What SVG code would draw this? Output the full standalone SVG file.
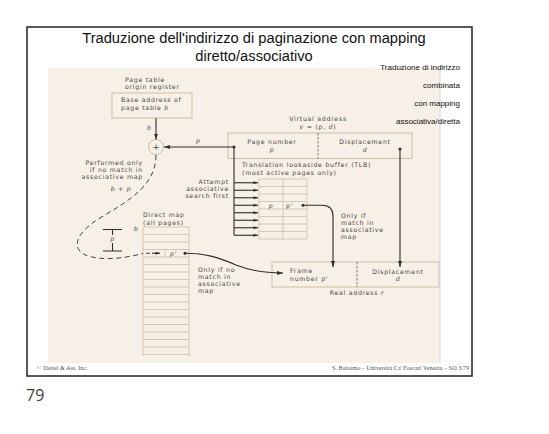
<svg xmlns="http://www.w3.org/2000/svg" width="549" height="434" viewBox="0 0 549 434">
  <defs>
    <style>
      .title { font-family: "Liberation Sans", Arial, sans-serif; font-size: 14.7px; fill: #111; text-anchor: middle; }
      .side { font-family: "Liberation Sans", Arial, sans-serif; font-size: 8px; fill: #111; text-anchor: end; }
      .fig { font-family: "DejaVu Sans", Verdana, sans-serif; font-size: 6.2px; letter-spacing: 0.75px; fill: #474747; }
      .mid { text-anchor: middle; }
      .end { text-anchor: end; }
      .it { font-style: italic; }
      .box { fill: none; stroke: #c9b8a0; stroke-width: 0.9; }
      .grid { fill: none; stroke: #cdbda6; stroke-width: 0.8; }
      .div { fill: none; stroke: #555; stroke-width: 0.8; stroke-dasharray: 2.5 1.5; }
      .wire { fill: none; stroke: #2e2e2e; stroke-width: 1.1; }
      .dash { fill: none; stroke: #444; stroke-width: 1; stroke-dasharray: 5 3.5; }
      .foot { font-family: "Liberation Serif", "Times New Roman", serif; font-size: 6.2px; fill: #555; }
    </style>
    <marker id="ah" viewBox="0 0 6 4" refX="6" refY="2" markerWidth="6" markerHeight="4" orient="auto" markerUnits="userSpaceOnUse">
      <path d="M0,0 L6,2 L0,4 z" fill="#2e2e2e"/>
    </marker>
    <marker id="ahs" viewBox="0 0 6 4" refX="6" refY="2" markerWidth="5" markerHeight="3" orient="auto" markerUnits="userSpaceOnUse">
      <path d="M0,0 L6,2 L0,4 z" fill="#2e2e2e"/>
    </marker>
  </defs>

  <!-- page and slide frame -->
  <rect x="0" y="0" width="549" height="434" fill="#fff"/>
  <rect x="27" y="27" width="445" height="349" fill="#fff" stroke="#222" stroke-width="1.5"/>

  <text class="title" x="254" y="42.5">Traduzione dell'indirizzo di paginazione con mapping</text>
  <text class="title" x="254" y="61">diretto/associativo</text>

  <!-- figure background -->
  <rect x="48" y="68" width="392" height="295" fill="#f7f0e6"/>
  <line x1="440" y1="68" x2="440" y2="363" stroke="#dcdcdc" stroke-width="1.2"/>

  <g id="side-note">
    <text class="side" x="460" y="69.5">Traduzione di indirizzo</text>
    <text class="side" x="460" y="87.5">combinata</text>
    <text class="side" x="460" y="105.5">con mapping</text>
    <text class="side" x="460" y="123.5">associativa/diretta</text>
  </g>

  <!-- page table origin register -->
  <g id="ptor">
    <text class="fig" x="125" y="82.2">Page table</text>
    <text class="fig" x="125" y="89.4">origin register</text>
    <rect class="box" x="112" y="93" width="80" height="25"/>
    <text class="fig" x="121" y="102.3">Base address of</text>
    <text class="fig" x="121" y="109.5">page table <tspan class="it">b</tspan></text>
  </g>

  <!-- adder -->
  <g id="adder">
    <circle cx="156" cy="147" r="7.5" fill="#f7f0e6" stroke="#c9b8a0" stroke-width="0.9"/>
    <text class="fig mid" x="156" y="150" style="font-size:8.5px;letter-spacing:0">+</text>
  </g>

  <!-- virtual address -->
  <g id="virtual-address">
    <text class="fig mid" x="318" y="121.3">Virtual address</text>
    <text class="fig mid" x="318" y="128.5"><tspan class="it">v</tspan> = (<tspan class="it">p</tspan>, <tspan class="it">d</tspan>)</text>
    <rect class="box" x="228" y="133" width="184" height="25.5"/>
    <line class="div" x1="318" y1="133" x2="318" y2="158.5"/>
    <text class="fig mid" x="272" y="143.8">Page number</text>
    <text class="fig mid it" x="272" y="151.5">p</text>
    <text class="fig mid" x="365" y="143.8">Displacement</text>
    <text class="fig mid it" x="365" y="151.5">d</text>
  </g>

  <!-- translation lookaside buffer -->
  <g id="tlb">
    <text class="fig" x="242" y="167.3">Translation lookaside buffer (TLB)</text>
    <text class="fig" x="242" y="174.5">(most active pages only)</text>
    <text class="fig end" x="229" y="183.5">Attempt</text>
    <text class="fig end" x="229" y="190.7">associative</text>
    <text class="fig end" x="229" y="197.9">search first</text>
    <path class="grid" d="M259,179H307 M259,186.5H307 M259,194H307 M259,201.5H307 M259,209H307 M259,216.5H307 M259,224H307 M259,231.5H307 M259,239H307 M259,179V239 M283,179V239 M307,179V239"/>
    <text class="fig mid it" x="271" y="207.5">p</text>
    <text class="fig it" x="286" y="207.5">p'</text>
  </g>

  <!-- direct map -->
  <g id="direct-map">
    <text class="fig" x="143" y="217.3">Direct map</text>
    <text class="fig" x="143" y="224.5">(all pages)</text>
    <text class="fig it" x="134" y="231">b</text>
    <path class="grid" d="M143,227H189 M143,234.5H189 M143,242H189 M143,249.5H189 M143,257H189 M143,264.5H189 M143,272H189 M143,279.5H189 M143,287H189 M143,294.5H189 M143,302H189 M143,309.5H189 M143,317H189 M143,324.5H189 M143,332H189 M143,339.5H189 M143,347H189 M143,354.5H189 M143,227V356 M189,227V356 M165,249.5V257"/>
    <text class="fig it" x="170" y="255.6">p'</text>
  </g>

  <!-- real address -->
  <g id="real-address">
    <rect class="box" x="272" y="262" width="167" height="25"/>
    <line class="div" x1="357" y1="262" x2="357" y2="287"/>
    <text class="fig" x="290" y="273.3">Frame</text>
    <text class="fig" x="290" y="280.5">number <tspan class="it">p'</tspan></text>
    <text class="fig mid" x="398" y="273.8">Displacement</text>
    <text class="fig mid it" x="398" y="281">d</text>
    <text class="fig mid" x="357" y="294.5">Real address <tspan class="it">r</tspan></text>
  </g>

  <!-- annotations -->
  <g id="labels">
    <text class="fig it" x="147" y="129.5">b</text>
    <text class="fig it" x="196" y="142.5">p</text>
    <text class="fig end" x="143" y="165">Performed only</text>
    <text class="fig end" x="143" y="172.2">if no match in</text>
    <text class="fig end" x="143" y="179.4">associative map</text>
    <text class="fig mid it" x="121" y="190.5">b + p</text>
    <text class="fig" x="341" y="217.5">Only if</text>
    <text class="fig" x="341" y="224.7">match in</text>
    <text class="fig" x="341" y="231.9">associative</text>
    <text class="fig" x="341" y="239.1">map</text>
    <text class="fig" x="198" y="271.5">Only if no</text>
    <text class="fig" x="198" y="278.7">match in</text>
    <text class="fig" x="198" y="285.9">associative</text>
    <text class="fig" x="198" y="293.1">map</text>
    <text class="fig mid it" x="112.9" y="241.3">p</text>
  </g>

  <!-- connectors -->
  <g id="connectors">
    <line class="wire" x1="156" y1="118" x2="156" y2="139.5" marker-end="url(#ah)"/>
    <circle cx="234" cy="147" r="1.5" fill="#2e2e2e"/>
    <line class="wire" x1="234" y1="147" x2="164" y2="147" marker-end="url(#ah)"/>
    <line class="wire" x1="234" y1="147" x2="234" y2="235.25"/>
    <g class="wire">
      <line x1="234" y1="182.75" x2="258" y2="182.75" marker-end="url(#ahs)"/>
      <line x1="234" y1="190.25" x2="258" y2="190.25" marker-end="url(#ahs)"/>
      <line x1="234" y1="197.75" x2="258" y2="197.75" marker-end="url(#ahs)"/>
      <line x1="234" y1="205.25" x2="258" y2="205.25" marker-end="url(#ahs)"/>
      <line x1="234" y1="212.75" x2="258" y2="212.75" marker-end="url(#ahs)"/>
      <line x1="234" y1="220.25" x2="258" y2="220.25" marker-end="url(#ahs)"/>
      <line x1="234" y1="227.75" x2="258" y2="227.75" marker-end="url(#ahs)"/>
      <line x1="234" y1="235.25" x2="258" y2="235.25" marker-end="url(#ahs)"/>
    </g>
    <!-- direct-map lookup path (dashed) -->
    <path class="dash" d="M156,155 C156,185 130,200 100,218 C75,233 70,250 88,256 C105,261 125,258 143,253.5"/>
    <path class="dash" d="M146,253.25 H150"/>
    <line class="wire" x1="152" y1="253.25" x2="160" y2="253.25" marker-end="url(#ahs)"/>
    <!-- interval marker -->
    <path class="wire" d="M103,229.5H122 M112.5,229.5V235 M112.5,243V251 M103,251H122" stroke-width="0.9"/>
    <!-- TLB hit -->
    <circle cx="303" cy="205.25" r="1.5" fill="#2e2e2e"/>
    <path class="wire" d="M303,205.25 H322 Q333,205.25 333,216 V267" marker-end="url(#ah)"/>
    <!-- direct map result -->
    <circle cx="185" cy="253.25" r="1.5" fill="#2e2e2e"/>
    <path class="wire" d="M185,253.25 C205,253 220,258 236,265 C251,271 266,273 283,273" marker-end="url(#ah)"/>
    <!-- displacement copy -->
    <circle cx="400" cy="149" r="1.5" fill="#2e2e2e"/>
    <line class="wire" x1="400" y1="149" x2="400" y2="267" marker-end="url(#ah)"/>
  </g>

  <!-- footer -->
  <text class="foot" x="37" y="370">© Deitel &amp; Ass. Inc.</text>
  <text class="foot" x="469" y="369.5" text-anchor="end">S. Balsamo – Università Ca' Foscari Venezia – SO.3.79</text>
  <text x="26" y="401" font-family="'Open Sans', 'DejaVu Sans', sans-serif" font-size="16" fill="#404040">79</text>
</svg>
